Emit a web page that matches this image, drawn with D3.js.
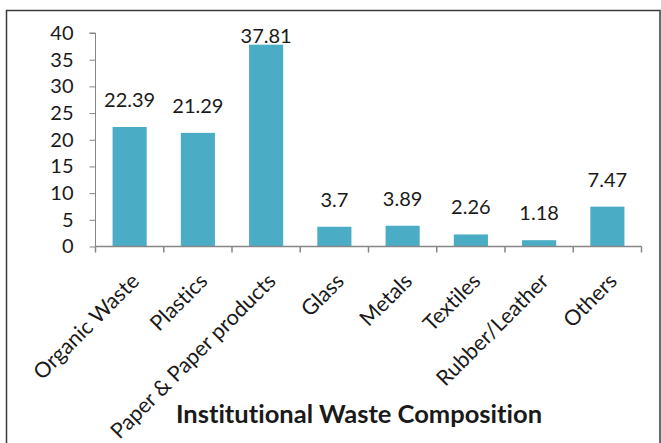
<!DOCTYPE html>
<html>
<head>
<meta charset="utf-8">
<script src="https://cdn.jsdelivr.net/npm/d3@7"></script>
<style>
  html, body { margin: 0; padding: 0; background: #fff; }
  svg { display: block; }
  text { font-variant-ligatures: none; }
</style>
</head>
<body>
<svg id="chart" width="661" height="443"></svg>
<script>
// Institutional waste composition (percent by category)
const categories = ["Organic Waste", "Plastics", "Paper & Paper products", "Glass",
                    "Metals", "Textiles", "Rubber/Leather", "Others"];
const values = [22.39, 21.29, 37.81, 3.7, 3.89, 2.26, 1.18, 7.47];
const yTicks = [0, 5, 10, 15, 20, 25, 30, 35, 40];
const title = "Institutional Waste Composition";

const W = 661, H = 443;
const plot = { left: 95.5, right: 641.5, top: 33, bottom: 246.5 };
const font = "Lato, 'Open Sans', sans-serif";
const axisColor = "#868686";
const barColor = "#4BACC6";
const textColor = "#1a1a1a";

const svg = d3.select("#chart");

// outer frame
svg.append("rect")
  .attr("x", 6.5).attr("y", 10.5)
  .attr("width", W - 7.5).attr("height", H)
  .attr("fill", "#fff")
  .attr("stroke", "#3a3a3a").attr("stroke-width", 1.5);

const x = d3.scaleBand()
  .domain(categories)
  .range([plot.left, plot.right])
  .paddingInner(0.5)
  .paddingOuter(0.25);

const y = d3.scaleLinear()
  .domain([0, 40])
  .range([plot.bottom, plot.top]);

// bars
svg.append("g").selectAll("rect")
  .data(values)
  .join("rect")
  .attr("x", (d, i) => x(categories[i]))
  .attr("y", d => y(d))
  .attr("width", x.bandwidth())
  .attr("height", d => y(0) - y(d))
  .attr("fill", barColor);

// y axis
const yAxis = svg.append("g")
  .attr("transform", `translate(${plot.left},0)`)
  .call(d3.axisLeft(y).tickValues(yTicks).tickSize(6).tickPadding(16).tickFormat(d3.format("d")));
yAxis.select(".domain").attr("stroke", axisColor).attr("d", `M-6,${y(40)}H0V${y(0)}`);
yAxis.selectAll(".tick line").attr("stroke", axisColor);
yAxis.selectAll(".tick text")
  .attr("font-family", font).attr("font-size", 20).attr("fill", textColor);

// x axis: baseline with ticks between categories
const step = x.step();
const boundaries = d3.range(categories.length + 1).map(i => plot.left + i * step);
const xAxis = svg.append("g");
xAxis.append("line")
  .attr("x1", plot.left).attr("x2", plot.left + categories.length * step)
  .attr("y1", y(0)).attr("y2", y(0))
  .attr("stroke", axisColor).attr("stroke-width", 1.5);
xAxis.selectAll("line.tk")
  .data(boundaries)
  .join("line").attr("class", "tk")
  .attr("x1", d => d).attr("x2", d => d)
  .attr("y1", y(0)).attr("y2", y(0) + 6)
  .attr("stroke", axisColor).attr("stroke-width", 1.5);

// rotated category labels
xAxis.selectAll("text")
  .data(categories)
  .join("text")
  .attr("transform", d => `translate(${x(d) + x.bandwidth() / 2 + 11},${y(0) + 36}) rotate(-45)`)
  .attr("text-anchor", "end")
  .attr("font-family", font).attr("font-size", 21.5).attr("fill", textColor)
  .text(d => d);

// value labels above the bars, kept inside the frame
svg.append("g").selectAll("text")
  .data(values)
  .join("text")
  .attr("x", (d, i) => x(categories[i]) + x.bandwidth() / 2)
  .attr("y", d => Math.max(y(d) - 20, 43))
  .attr("text-anchor", "middle")
  .attr("font-family", font).attr("font-size", 20).attr("fill", textColor)
  .text(d => d);

// chart title
svg.append("text")
  .attr("x", 359).attr("y", 423)
  .attr("text-anchor", "middle")
  .attr("font-family", font).attr("font-weight", "bold").attr("font-size", 25.5)
  .attr("fill", textColor)
  .text(title);
</script>
</body>
</html>
